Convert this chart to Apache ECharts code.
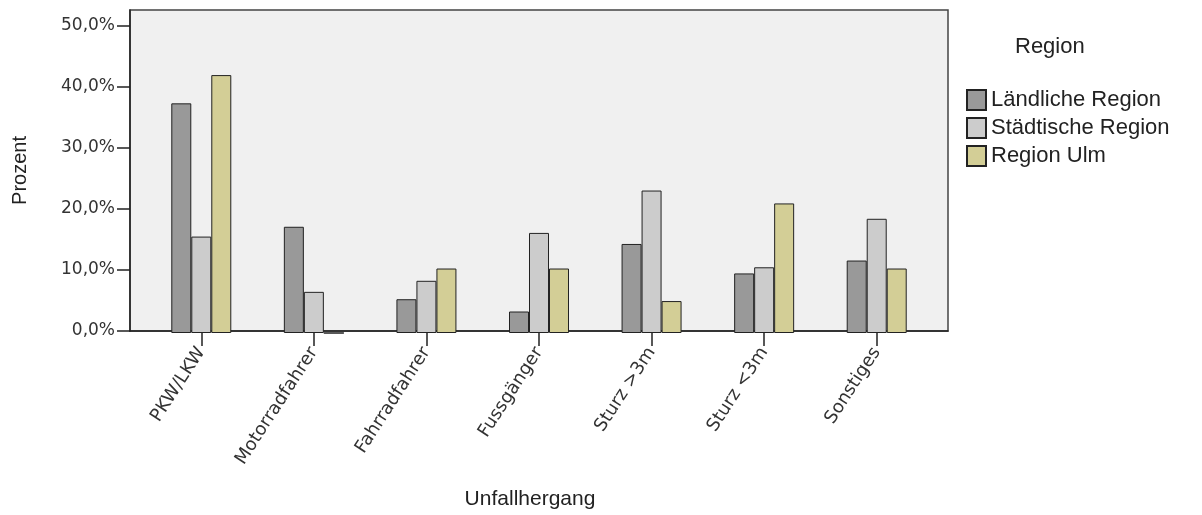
<!DOCTYPE html>
<html>
<head>
<meta charset="utf-8">
<script src="https://cdn.jsdelivr.net/npm/echarts@6/dist/echarts.min.js"></script>
<style>
html,body{margin:0;padding:0;background:#fff;}
#chart{width:1202px;height:515px;}
</style>
</head>
<body>
<div id="chart"></div>
<script>
const categories = ['PKW/LKW', 'Motorradfahrer', 'Fahrradfahrer', 'Fussgänger', 'Sturz >3m', 'Sturz <3m', 'Sonstiges'];
const seriesNames = ['Ländliche Region', 'Städtische Region', 'Region Ulm'];
const laendlich = [37.4, 17.3, 5.5, 3.5, 14.5, 9.7, 11.8];
const staedtisch = [15.7, 6.7, 8.5, 16.3, 23.2, 10.7, 18.6];
const ulm = [42.0, 0.0, 10.5, 10.5, 5.2, 21.1, 10.5];
const yTicks = [0, 10, 20, 30, 40, 50];
const yMax = 52.6;
const colors = ['#999999', '#cccccc', '#d3ce96'];

const chart = echarts.init(document.getElementById('chart'));
const dataSets = [laendlich, staedtisch, ulm];
const option = {
  animation: false,
  title: {
    text: 'Region', left: 1010, top: 31,
    textStyle: { fontFamily: 'Liberation Sans', fontSize: 22, fontWeight: 'normal', color: '#222' }
  },
  legend: {
    orient: 'vertical', left: 966, top: 89, padding: 0,
    itemWidth: 19, itemHeight: 20, itemGap: 6, icon: 'rect',
    data: seriesNames,
    textStyle: { fontFamily: 'Liberation Sans', fontSize: 22, color: '#222', lineHeight: 20 }
  },
  grid: [
    { left: 130, right: 254, top: 10, bottom: 182, show: true, backgroundColor: '#f0f0f0', borderColor: '#444', borderWidth: 1.5 },
    { left: 145, right: 269, top: 10, bottom: 182 }
  ],
  xAxis: [
    {
      gridIndex: 0, type: 'value', min: 0, max: 1,
      axisLine: { show: true, lineStyle: { color: '#222', width: 1.5 } },
      axisTick: { show: false }, axisLabel: { show: false }, splitLine: { show: false },
      name: 'Unfallhergang', nameLocation: 'middle', nameGap: 158,
      nameTextStyle: { fontFamily: 'Liberation Sans', fontSize: 21, color: '#222', padding: [0, 18, 0, 0] }
    },
    {
      gridIndex: 1, type: 'category', data: categories,
      axisLine: { show: false },
      axisTick: { show: true, alignWithLabel: true, length: 13, lineStyle: { color: '#222', width: 1.5 } },
      axisLabel: { rotate: 57, margin: 16, fontFamily: 'DejaVu Sans', fontSize: 18, color: '#333' },
      splitLine: { show: false }
    }
  ],
  yAxis: [
    {
      gridIndex: 0, type: 'value', min: 0, max: yMax, interval: 10,
      axisLine: { show: true, lineStyle: { color: '#222', width: 1.5 } },
      axisTick: { show: true, length: 13, customValues: yTicks, lineStyle: { color: '#222', width: 1.5 } },
      axisLabel: {
        customValues: yTicks, margin: 15, fontFamily: 'DejaVu Sans', fontSize: 17, color: '#333',
        padding: [8, 0, 0, 0],
        formatter: v => v.toFixed(1).replace('.', ',') + '%'
      },
      splitLine: { show: false },
      name: 'Prozent', nameLocation: 'middle', nameGap: 100,
      nameTextStyle: { fontFamily: 'Liberation Sans', fontSize: 20, color: '#222' }
    },
    {
      gridIndex: 1, type: 'value', min: 0, max: yMax, show: false, splitLine: { show: false }
    }
  ],
  series: dataSets.map((d, i) => ({
    name: seriesNames[i], type: 'bar', xAxisIndex: 1, yAxisIndex: 1,
    data: d, barWidth: 20, barGap: '0%',
    itemStyle: { color: colors[i], borderColor: '#222', borderWidth: 1 }
  }))
};
chart.setOption(option);
</script>
</body>
</html>
